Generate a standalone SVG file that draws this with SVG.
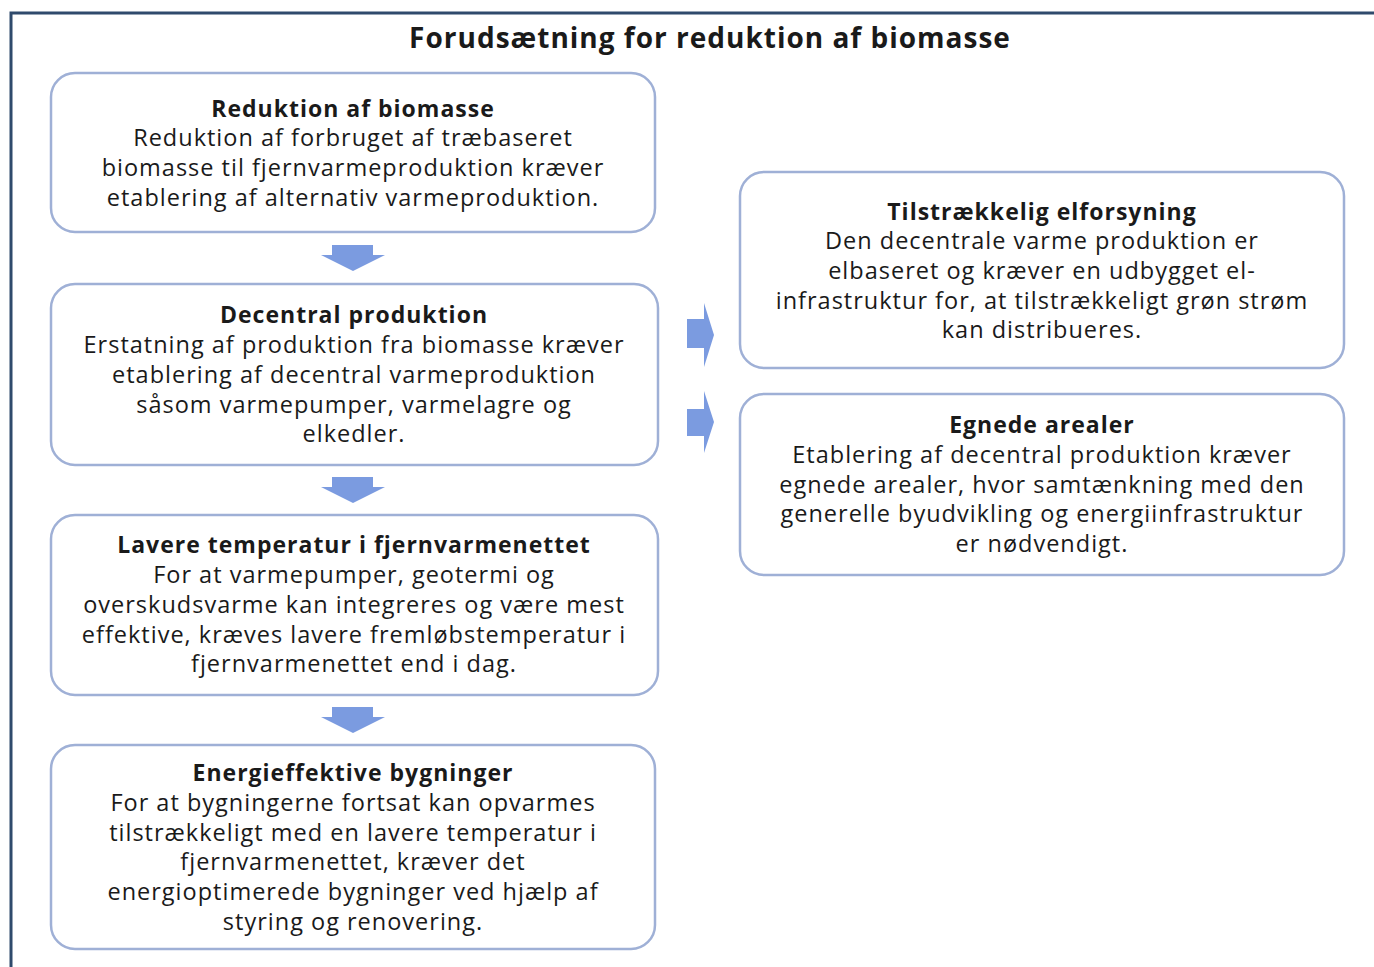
<svg xmlns="http://www.w3.org/2000/svg" width="1374" height="967" viewBox="0 0 1374 967">
<style>
.frame{fill:#ffffff;stroke:#2f4a6c;stroke-width:3}
.box{fill:#ffffff;stroke:#9fb0d6;stroke-width:2.5}
.arr{fill:#7b9be0}
text{font-family:"Open Sans","Noto Sans","Liberation Sans",sans-serif;fill:#1a1a1a;text-anchor:middle}
.t{font-size:23px;font-weight:bold;letter-spacing:1px}
.b{font-size:23.5px;letter-spacing:1px}
.h{font-size:28px;font-weight:bold;letter-spacing:1px}
</style>
<rect width="1374" height="967" fill="#ffffff"/>
<path class="frame" d="M11,980 L11,13 L1380,13"/>
<text class="h" x="710" y="48">Forudsætning for reduktion af biomasse</text>
<g id="n1">
<rect class="box" x="51" y="73" width="604" height="159" rx="24"/>
<text class="t" x="353" y="117">Reduktion af biomasse</text>
<text class="b" x="353" y="146">Reduktion af forbruget af træbaseret</text>
<text class="b" x="353" y="176">biomasse til fjernvarmeproduktion kræver</text>
<text class="b" x="353" y="206">etablering af alternativ varmeproduktion.</text>
</g>
<g id="n2">
<rect class="box" x="51" y="284" width="607" height="181" rx="24"/>
<text class="t" x="354" y="323">Decentral produktion</text>
<text class="b" x="354" y="353">Erstatning af produktion fra biomasse kræver</text>
<text class="b" x="354" y="383">etablering af decentral varmeproduktion</text>
<text class="b" x="354" y="413">såsom varmepumper, varmelagre og</text>
<text class="b" x="354" y="442">elkedler.</text>
</g>
<g id="n3">
<rect class="box" x="51" y="515" width="607" height="180" rx="24"/>
<text class="t" x="354" y="553">Lavere temperatur i fjernvarmenettet</text>
<text class="b" x="354" y="583">For at varmepumper, geotermi og</text>
<text class="b" x="354" y="613">overskudsvarme kan integreres og være mest</text>
<text class="b" x="354" y="643">effektive, kræves lavere fremløbstemperatur i</text>
<text class="b" x="354" y="672">fjernvarmenettet end i dag.</text>
</g>
<g id="n4">
<rect class="box" x="51" y="745" width="604" height="204" rx="24"/>
<text class="t" x="353" y="781">Energieffektive bygninger</text>
<text class="b" x="353" y="811">For at bygningerne fortsat kan opvarmes</text>
<text class="b" x="353" y="841">tilstrækkeligt med en lavere temperatur i</text>
<text class="b" x="353" y="870">fjernvarmenettet, kræver det</text>
<text class="b" x="353" y="900">energioptimerede bygninger ved hjælp af</text>
<text class="b" x="353" y="930">styring og renovering.</text>
</g>
<g id="n5">
<rect class="box" x="740" y="172" width="604" height="196" rx="24"/>
<text class="t" x="1042" y="220">Tilstrækkelig elforsyning</text>
<text class="b" x="1042" y="249">Den decentrale varme produktion er</text>
<text class="b" x="1042" y="279">elbaseret og kræver en udbygget el-</text>
<text class="b" x="1042" y="309">infrastruktur for, at tilstrækkeligt grøn strøm</text>
<text class="b" x="1042" y="338">kan distribueres.</text>
</g>
<g id="n6">
<rect class="box" x="740" y="394" width="604" height="181" rx="24"/>
<text class="t" x="1042" y="433">Egnede arealer</text>
<text class="b" x="1042" y="463">Etablering af decentral produktion kræver</text>
<text class="b" x="1042" y="493">egnede arealer, hvor samtænkning med den</text>
<text class="b" x="1042" y="522">generelle byudvikling og energiinfrastruktur</text>
<text class="b" x="1042" y="552">er nødvendigt.</text>
</g>
<g id="connectors">
<polygon class="arr" points="332,245 373,245 373,255 385,255 353,271 321,255 332,255"/>
<polygon class="arr" points="332,477 373,477 373,487 385,487 353,503 321,487 332,487"/>
<polygon class="arr" points="332,707 373,707 373,717 385,717 353,733 321,717 332,717"/>
<polygon class="arr" points="687,319 704,319 704,303 714,335 704,367 704,348 687,348"/>
<polygon class="arr" points="687,409 704,409 704,391 714,422 704,453 704,436 687,436"/>
</g>
</svg>
